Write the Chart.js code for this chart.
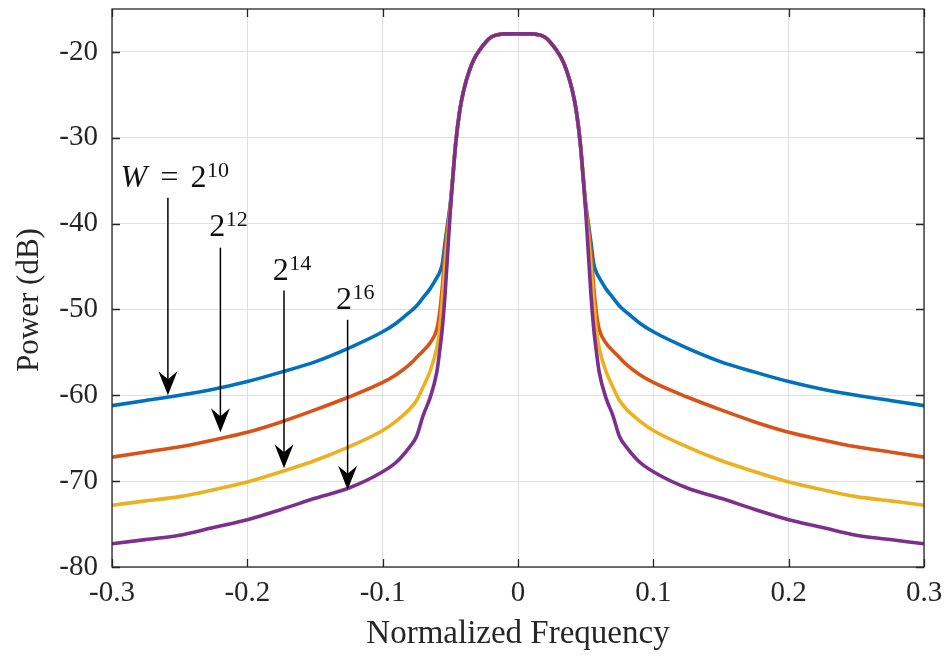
<!DOCTYPE html>
<html>
<head>
<meta charset="utf-8">
<script src="https://cdn.jsdelivr.net/npm/chart.js@4.4.0/dist/chart.umd.min.js"></script>
<style>
  html, body { margin: 0; padding: 0; background: #fff; }
  #wrap { width: 948px; height: 658px; }
</style>
</head>
<body>
<div id="wrap"><canvas id="psd" width="948" height="658"></canvas></div>
<script>
// normalized frequency grid (shared by all four curves)
const freq = [
  -0.3, -0.275, -0.25, -0.225, -0.2, -0.175, -0.15, -0.125, -0.1, -0.09,
  -0.08, -0.075, -0.07, -0.065, -0.06, -0.058, -0.056, -0.054, -0.052, -0.05,
  -0.048, -0.046, -0.043, -0.04, -0.036, -0.032, -0.028, -0.024, -0.02, -0.015,
  -0.01, 0, 0.01,
  0.015, 0.02, 0.024, 0.028, 0.032, 0.036, 0.04, 0.043, 0.046, 0.048,
  0.05, 0.052, 0.054, 0.056, 0.058, 0.06, 0.065, 0.07, 0.075, 0.08,
  0.09, 0.1, 0.125, 0.15, 0.175, 0.2, 0.225, 0.25, 0.275, 0.3
];

// power in dB, one list per window length
const powerW10 = [
  -61.2, -60.6, -60.0, -59.3, -58.4, -57.3, -56.1, -54.5, -52.6, -51.6,
  -50.3, -49.6, -48.6, -47.6, -46.3, -45.7, -44.7, -42.3, -40.0, -37.6,
  -34.3, -30.6, -26.8, -24.4, -22.2, -20.7, -19.7, -18.9, -18.3, -18.0,
  -17.9, -17.9, -17.9,
  -18.0, -18.3, -18.9, -19.7, -20.7, -22.2, -24.4, -26.8, -30.6, -34.3,
  -37.6, -40.0, -42.3, -44.7, -45.7, -46.3, -47.6, -48.6, -49.6, -50.3,
  -51.6, -52.6, -54.5, -56.1, -57.3, -58.4, -59.3, -60.0, -60.6, -61.2
];
const powerW12 = [
  -67.2, -66.6, -66.0, -65.2, -64.3, -63.1, -61.7, -60.2, -58.5, -57.6,
  -56.4, -55.6, -54.8, -53.9, -52.3, -50.5, -47.5, -43.5, -40.5, -38.0,
  -34.3, -30.6, -26.8, -24.4, -22.2, -20.7, -19.7, -18.9, -18.3, -18.0,
  -17.9, -17.9, -17.9,
  -18.0, -18.3, -18.9, -19.7, -20.7, -22.2, -24.4, -26.8, -30.6, -34.3,
  -38.0, -40.5, -43.5, -47.5, -50.5, -52.3, -53.9, -54.8, -55.6, -56.4,
  -57.6, -58.5, -60.2, -61.7, -63.1, -64.3, -65.2, -66.0, -66.6, -67.2
];
const powerW14 = [
  -72.8, -72.3, -71.8, -71.0, -70.1, -68.9, -67.6, -66.0, -64.1, -63.0,
  -61.6, -60.6, -59.0, -57.2, -54.5, -52.5, -49.0, -45.0, -41.5, -38.2,
  -34.3, -30.6, -26.8, -24.4, -22.2, -20.7, -19.7, -18.9, -18.3, -18.0,
  -17.9, -17.9, -17.9,
  -18.0, -18.3, -18.9, -19.7, -20.7, -22.2, -24.4, -26.8, -30.6, -34.3,
  -38.2, -41.5, -45.0, -49.0, -52.5, -54.5, -57.2, -59.0, -60.6, -61.6,
  -63.0, -64.1, -66.0, -67.6, -68.9, -70.1, -71.0, -71.8, -72.3, -72.8
];
const powerW16 = [
  -77.3, -76.8, -76.3, -75.4, -74.5, -73.3, -72.0, -70.8, -68.9, -67.8,
  -66.0, -64.8, -62.3, -60.3, -57.3, -55.0, -52.3, -48.5, -43.5, -38.5,
  -34.3, -30.6, -26.8, -24.4, -22.2, -20.7, -19.7, -18.9, -18.3, -18.0,
  -17.9, -17.9, -17.9,
  -18.0, -18.3, -18.9, -19.7, -20.7, -22.2, -24.4, -26.8, -30.6, -34.3,
  -38.5, -43.5, -48.5, -52.3, -55.0, -57.3, -60.3, -62.3, -64.8, -66.0,
  -67.8, -68.9, -70.8, -72.0, -73.3, -74.5, -75.4, -76.3, -76.8, -77.3
];

// arrow annotations: exponent, arrow x, arrow start / tip (dB), label anchor
const arrowExp = ['10', '12', '14', '16'];
const arrowFreq = [-0.2587, -0.2199, -0.1729, -0.1259];
const arrowFrom = [-37.0, -42.8, -47.8, -51.2];
const arrowTo = [-60.0, -64.3, -68.5, -71.0];
const labelFreq = [-0.2937, -0.2282, -0.1813, -0.1345];
const labelPower = [-35.7, -41.5, -46.6, -50.0];

const xTicks = [-0.3, -0.2, -0.1, 0, 0.1, 0.2, 0.3];
const yTicks = [-80, -70, -60, -50, -40, -30, -20];

const seriesList = [
  { label: 'W = 2^10', data: powerW10, color: '#0072BD' },
  { label: 'W = 2^12', data: powerW12, color: '#D95319' },
  { label: 'W = 2^14', data: powerW14, color: '#EDB120' },
  { label: 'W = 2^16', data: powerW16, color: '#7E2F8E' }
];

const serif = "'Liberation Serif', 'DejaVu Serif', serif";
const ink = '#262626';

function drawArrow(ctx, x, y0, y1) {
    ctx.beginPath();
    ctx.moveTo(x, y0);
    ctx.lineTo(x, y1 - 14);
    ctx.stroke();
    // stealth style head, tip at (x, y1)
    ctx.beginPath();
    ctx.moveTo(x, y1);
    ctx.lineTo(x - 9.5, y1 - 24);
    ctx.lineTo(x, y1 - 16);
    ctx.lineTo(x + 9.5, y1 - 24);
    ctx.closePath();
    ctx.fill();
}

const annotations = {
    id: 'annotations',
    afterDatasetsDraw(chart) {
        const { ctx, scales: { x, y } } = chart;
        ctx.save();
        ctx.strokeStyle = '#000';
        ctx.lineWidth = 1.5;
        arrowExp.forEach((exp, i) => {
            ctx.fillStyle = '#000';
            const ax = x.getPixelForValue(arrowFreq[i]);
            drawArrow(ctx, ax, y.getPixelForValue(arrowFrom[i]), y.getPixelForValue(arrowTo[i]));

            let lx = x.getPixelForValue(labelFreq[i]);
            const ly = y.getPixelForValue(labelPower[i]);
            ctx.textBaseline = 'alphabetic';
            ctx.textAlign = 'left';
            ctx.fillStyle = '#111';
            if (i === 0) {
                ctx.font = 'italic 32px ' + serif;
                ctx.fillText('W', lx, ly);
                ctx.font = '32px ' + serif;
                ctx.fillText('=', lx + 40, ly);
                lx += 70;
            }
            ctx.font = '32px ' + serif;
            ctx.fillText('2', lx, ly);
            const w2 = ctx.measureText('2').width;
            ctx.font = '22px ' + serif;
            ctx.fillText(exp, lx + w2 + 0.5, ly - 10);
        });
        ctx.restore();
    }
};

// box with inward ticks on all four sides, plus the y-axis label
const frameTicks = {
    id: 'frameTicks',
    afterDraw(chart) {
        const { ctx, chartArea: a, scales: { x, y } } = chart;
        ctx.save();
        ctx.strokeStyle = ink;
        ctx.lineWidth = 1.3;
        ctx.strokeRect(a.left, a.top, a.right - a.left, a.bottom - a.top);
        ctx.beginPath();
        xTicks.forEach(v => {
            const px = Math.round(x.getPixelForValue(v)) + 0.5;
            ctx.moveTo(px, a.bottom); ctx.lineTo(px, a.bottom - 8);
            ctx.moveTo(px, a.top); ctx.lineTo(px, a.top + 8);
        });
        yTicks.forEach(v => {
            const py = Math.round(y.getPixelForValue(v)) + 0.5;
            ctx.moveTo(a.left, py); ctx.lineTo(a.left + 8, py);
            ctx.moveTo(a.right, py); ctx.lineTo(a.right - 8, py);
        });
        ctx.stroke();

        ctx.translate(38, 300);
        ctx.rotate(-Math.PI / 2);
        ctx.fillStyle = ink;
        ctx.font = '31px ' + serif;
        ctx.textAlign = 'center';
        ctx.textBaseline = 'alphabetic';
        ctx.fillText('Power (dB)', 0, 0);
        ctx.restore();
    }
};

Chart.defaults.font.family = serif;
Chart.defaults.color = ink;

new Chart(document.getElementById('psd').getContext('2d'), {
    type: 'line',
    data: {
        datasets: seriesList.map((s, i) => ({
            label: s.label,
            data: freq.map((f, k) => ({ x: f, y: s.data[k] })),
            borderColor: s.color,
            backgroundColor: s.color,
            borderWidth: 3.6,
            pointRadius: 0,
            cubicInterpolationMode: 'monotone',
            fill: false,
            order: seriesList.length - i
        }))
    },
    options: {
        responsive: false,
        animation: false,
        devicePixelRatio: 1,
        layout: { padding: { top: 9, right: 24, left: 0, bottom: 0 } },
        plugins: {
            legend: { display: false },
            tooltip: { enabled: false }
        },
        scales: {
            x: {
                type: 'linear',
                min: -0.3,
                max: 0.3,
                afterBuildTicks: scale => { scale.ticks = xTicks.map(v => ({ value: v })); },
                afterFit: scale => {
                    scale.height = 91;
                    scale.paddingLeft = 0;
                    scale.paddingRight = 0;
                },
                ticks: {
                    callback: v => Math.abs(v) < 1e-9 ? '0' : v.toFixed(1),
                    font: { size: 29 },
                    color: ink,
                    padding: 9,
                    maxRotation: 0
                },
                grid: { color: '#dfdfdf', lineWidth: 1, drawTicks: false },
                border: { display: false },
                title: {
                    display: true,
                    text: 'Normalized Frequency',
                    font: { size: 33 },
                    color: ink,
                    padding: { top: 0, bottom: 4 }
                }
            },
            y: {
                type: 'linear',
                min: -80,
                max: -15,
                afterBuildTicks: scale => { scale.ticks = yTicks.map(v => ({ value: v })); },
                afterFit: scale => {
                    scale.width = 112;
                    scale.paddingTop = 0;
                    scale.paddingBottom = 0;
                },
                ticks: {
                    font: { size: 29 },
                    color: ink,
                    padding: 14
                },
                grid: { color: '#dfdfdf', lineWidth: 1, drawTicks: false },
                border: { display: false }
            }
        }
    },
    plugins: [annotations, frameTicks]
});
</script>
</body>
</html>
